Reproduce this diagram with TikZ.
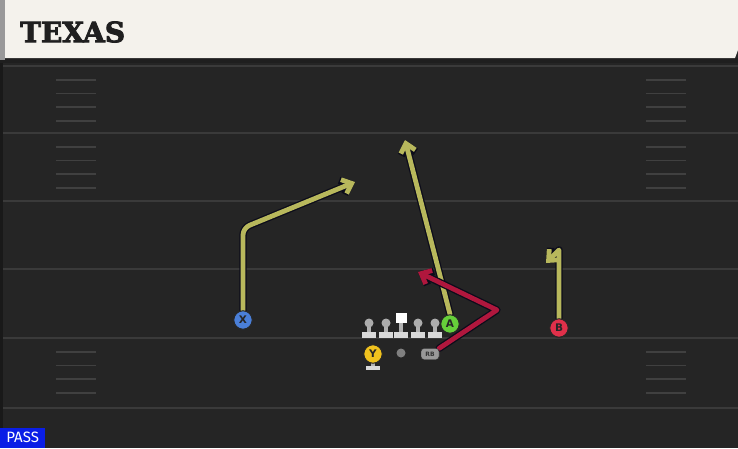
\documentclass[tikz,border=0pt]{standalone}
\usepackage{fontspec}
\setmainfont{DejaVu Serif}
\newfontfamily\titlefont[BoldFeatures={FakeBold=3}]{DejaVu Serif}
\newfontfamily\passfont{Fira Sans}
\newfontfamily\markfont{DejaVu Sans}
\usetikzlibrary{arrows.meta}

\definecolor{fieldbg}{HTML}{252525}
\definecolor{fieldline}{HTML}{3A3A3A}
\definecolor{hashline}{HTML}{404040}
\definecolor{headerbg}{HTML}{F4F2EC}
\definecolor{routeyel}{HTML}{B8B85C}
\definecolor{routered}{HTML}{B0173D}
\definecolor{routeedge}{HTML}{0C0C1A}
\definecolor{passblue}{HTML}{0A1EE6}
\definecolor{xblue}{HTML}{4A7FD8}
\definecolor{agreen}{HTML}{66CF3A}
\definecolor{bred}{HTML}{E0304A}
\definecolor{yyellow}{HTML}{F0C21E}

\tikzset{
  player/.style={circle, draw=black!85, line width=1pt, minimum size=18.5pt, inner sep=0pt,
                 font=\markfont\fontsize{10.5}{10.5}\selectfont\bfseries, text=black!85},
  rbbox/.style={draw=black!85, fill=black!40, rounded corners=3pt, minimum width=18pt, minimum height=11pt, inner sep=0pt,
                font=\markfont\fontsize{6}{6}\selectfont\bfseries, text=black!80},
  route/.style={line width=4.8pt, line cap=round, line join=round,
                preaction={draw=routeedge, line width=7.4pt, line cap=round, line join=round,
                           -{Straight Barb[length=8.5pt,width=15pt,line width=7.4pt]}},
                -{Straight Barb[length=8.5pt,width=15pt,line width=4.8pt]}},
}

\begin{document}
\begin{tikzpicture}[x=1pt,y=-1pt]
    \useasboundingbox (0,0) rectangle (738,448);
    
    % Drawing field
    \fill [fieldbg] (0,0) rectangle (738,448);
    \fill [black!88] (0,58) rectangle (738,63);
    \fill [black!90] (0,63) rectangle (3,448);
    
    % Drawing yard lines
    \foreach \y in {66,133,201,269,338,408}
      \draw [fieldline, line width=2pt] (3,\y) -- (738,\y);%
    
    % Drawing hash marks
    \foreach \y in {66,133,338}
      \foreach \k in {1,2,3,4} {
        \draw [hashline, line width=1.8pt] (56,\y+13.7*\k) -- (96,\y+13.7*\k);%
        \draw [hashline, line width=1.8pt] (646,\y+13.7*\k) -- (686,\y+13.7*\k);%
      }
    
    % Drawing header
    \fill [black!40] (0,0) rectangle (5,60);
    \fill [headerbg] (5,0) -- (738,0) -- (738,50) -- (735,58) -- (5,58) -- cycle;
    \node (title) [anchor=west, inner sep=0pt, font=\titlefont\fontsize{28}{28}\selectfont\bfseries, text=black!88] at (20,32) {TEXAS};%
    
    % Drawing play tag
    \node (tag) [anchor=south west, fill=passblue, text=white, inner sep=0pt, minimum width=45pt, minimum height=20pt,
                 font=\passfont\fontsize{15}{15}\selectfont] at (0,448) {PASS};%
    
    % Drawing offensive line
    \foreach \x in {369,386,418,435} {
      \fill [black!30] (\x-2.2,323) rectangle (\x+2.2,333);
      \fill [black!32] (\x,323) circle (4.5);
      \fill [black!15] (\x-7,332) rectangle (\x+7,337.5);
    }
    \fill [black!30] (398.8,320) rectangle (403.2,333);
    \fill [black!15] (394,332) rectangle (408,337.5);
    \fill [white] (395.5,313) rectangle (406.5,323);
    \node (C) [inner sep=0pt, minimum size=10pt] at (401,318) {};%
    
    % Drawing quarterback
    \fill [black!50] (401,353) circle (4.5);
    \node (QB) [inner sep=0pt, minimum size=9pt] at (401,353) {};%
    
    % Drawing routes
    \coordinate (xbreak) at (243,228);
    \coordinate (xend) at (355,182);
    \coordinate (aend) at (405,140);
    \coordinate (btop) at (559,250);
    \coordinate (bend) at (546,263);
    \coordinate (rbbreak) at (497,310);
    \coordinate (rbend) at (418,272);
    
    \node (X) [player, fill=xblue] at (243,320) {X};%
    \node (A) [player, fill=agreen] at (450,324) {A};%
    \node (B) [player, fill=bred] at (559,328) {B};%
    \node (RB) [rbbox] at (430,354) {RB};%
    
    \draw [route, draw=routeyel, rounded corners=7pt] (X.north) -- (xbreak) -- (xend);%
    \draw [route, draw=routeyel] (A.north) -- (aend);%
    \draw [route, draw=routeyel] (B.north) -- (btop) -- (bend);%
    \draw [route, draw=routered] (RB.north east) -- (rbbreak) -- (rbend);%
    
    % Redrawing players over routes
    \node [player, fill=xblue] at (X) {X};%
    \node [player, fill=agreen] at (A) {A};%
    \node [player, fill=bred] at (B) {B};%
    \node [rbbox] at (RB) {RB};%
    
    % Drawing tight end
    \fill [black!30] (370.8,360) rectangle (375.2,366);
    \fill [black!15] (366,365.5) rectangle (380,370);
    \node (Y) [player, fill=yyellow] at (373,354) {Y};%
\end{tikzpicture}
\end{document}
